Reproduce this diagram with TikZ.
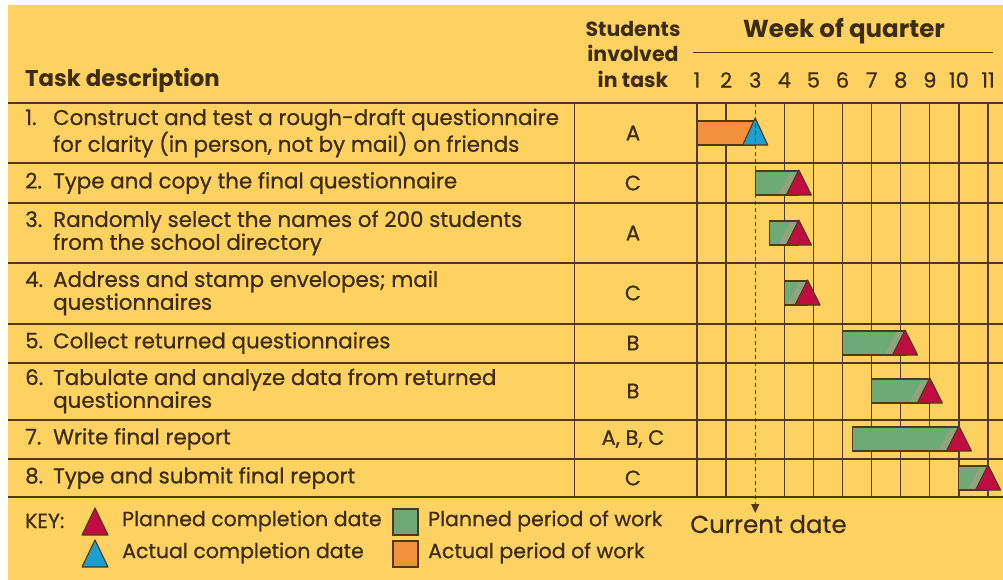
\documentclass[tikz,border=0pt]{standalone}
\usepackage{fontspec}
\setmainfont{Poppins}[UprightFeatures={FakeBold=0.6}]
\usetikzlibrary{arrows.meta}

\definecolor{chartbg}{RGB}{253,210,96}
\definecolor{rule}{RGB}{80,58,22}
\definecolor{ink}{RGB}{62,44,16}
\definecolor{planfill}{RGB}{109,170,120}
\definecolor{planband}{RGB}{148,162,128}
\definecolor{actfill}{RGB}{244,146,60}
\definecolor{plantri}{RGB}{192,12,64}
\definecolor{acttri}{RGB}{28,158,208}

% week k sits on a grid line
\newcommand{\wk}[1]{697+29.1*(#1-1)}
% number of a task, with the hanging indent
\newcommand{\tnum}[1]{\makebox[28pt][l]{#1}}

\tikzset{
  rowtext/.style={anchor=west, align=left, inner sep=0pt, text=ink,
    font=\fontsize{21.4}{20}\selectfont},
  keytext/.style={anchor=west, inner sep=0pt, text=ink, font=\fontsize{20.5}{20}\selectfont},
  who/.style={inner sep=0pt, text=ink, font=\fontsize{21}{20}\selectfont},
  head/.style={inner sep=0pt, text=ink, font=\fontsize{21}{25}\selectfont\bfseries},
  weeknum/.style={inner sep=0pt, text=ink, font=\fontsize{21}{20}\selectfont},
  bar/.style={draw=rule, line width=1.1pt},
  tri/.style={draw=rule, line width=1.1pt, line join=round},
}

\begin{document}
\begin{tikzpicture}[x=1pt, y=-1pt]
\useasboundingbox (0,0) rectangle (1003,580);
\fill[chartbg] (8,5) rectangle (1003,580);

% header
\node[head, anchor=west, font=\fontsize{22.8}{25}\selectfont\bfseries] (task) at (25,80) {Task description};
\node[head, align=center, font=\fontsize{20.5}{25.5}\selectfont\bfseries] (stud) at (633,54) {Students\\involved\\in task};
\node[head, font=\fontsize{24.5}{25}\selectfont\bfseries] (week) at (844,31) {Week of quarter};
\draw[rule, line width=1pt] (693,53) -- (993,53);
\foreach \k in {1,...,11}
  \node[weeknum] (w\k) at ({\wk{\k}},80) {\k};

% rows
\foreach \y in {103,163,203,263,324,363,420,459,497}
  \draw[rule, line width=2.2pt] (8,\y) -- (1003,\y);
\draw[rule, line width=1pt] (574,103) -- (574,497);
\foreach \k in {1,2,4,5,6,7,8,9,10,11}
  \draw[rule, line width=1.3pt] ({\wk{\k}},103) -- ({\wk{\k}},497);

\foreach \n/\y/\txt/\who in {
  1/133/{\tnum{1.}Construct and test a rough-draft questionnaire\\\tnum{}for clarity (in person, not by mail) on friends}/A,
  2/183/{\tnum{2.}Type and copy the final questionnaire}/C,
  3/233/{\tnum{3.}Randomly select the names of 200 students\\\tnum{}from the school directory}/A,
  4/293/{\tnum{4.}Address and stamp envelopes; mail\\\tnum{}questionnaires}/C,
  5/343/{\tnum{5.}Collect returned questionnaires}/B,
  6/391/{\tnum{6.}Tabulate and analyze data from returned\\\tnum{}questionnaires}/B,
  7/439/{\tnum{7.}Write final report}/{A, B, C},
  8/478/{\tnum{8.}Type and submit final report}/C}{
  \node[rowtext] (t\n) at (25,\y) {\txt};
  \node[who] (s\n) at (633,\y) {\who};
}

% bars: row centre / first week / last week
\filldraw[bar, fill=actfill] ({\wk{1}},121) rectangle ({\wk{3}},145);
\filldraw[tri, fill=acttri] ({\wk{3}-12.5},145) -- ({\wk{3}},118) -- ({\wk{3}+12.5},145) -- cycle;
\foreach \y/\a/\b in {183/3/4.5, 233/3.5/4.5, 293/4/4.8, 343/6/8.15,
                      391/7/9, 439/6.35/10, 478/10/11}{
  \fill[planfill] ({\wk{\a}},\y-12) rectangle ({\wk{\b}},\y+12);
  \fill[planband] ({\wk{\b}-8},\y-12) -- ({\wk{\b}},\y-12) -- ({\wk{\b}-12.5},\y+12) -- ({\wk{\b}-20.5},\y+12) -- cycle;
  \draw[bar] ({\wk{\a}},\y-12) rectangle ({\wk{\b}},\y+12);
  \filldraw[tri, fill=plantri] ({\wk{\b}-12.5},\y+12) -- ({\wk{\b}},\y-13) -- ({\wk{\b}+12.5},\y+12) -- cycle;
}

% current date
\coordinate (now) at ({\wk{3}},103);
\node[keytext, font=\fontsize{24.5}{25}\selectfont] (cur) at (690,524) {Current date};
\draw[rule, line width=1.2pt, dash pattern=on 4pt off 3pt] (now) -- (now |- 0,504);
\draw[rule, line width=1.2pt, -{Triangle[length=9pt,width=8pt]}] (now |- 0,503) -- (now |- 0,513);

% key
\node[keytext] (key) at (25,521) {KEY:};
\filldraw[tri, fill=plantri] (82,535) -- (95,508) -- (108,535) -- cycle;
\filldraw[tri, fill=acttri] (82,567) -- (95,540) -- (108,567) -- cycle;
\node[keytext] (kplan) at (122,521) {Planned completion date};
\node[keytext] (kact) at (122,553) {Actual completion date};
\filldraw[bar, fill=planfill] (393,509) rectangle (418,535);
\filldraw[bar, fill=actfill] (393,541) rectangle (418,567);
\node[keytext] (kwork) at (428,521) {Planned period of work};
\node[keytext] (kdone) at (428,553) {Actual period of work};
\end{tikzpicture}
\end{document}
